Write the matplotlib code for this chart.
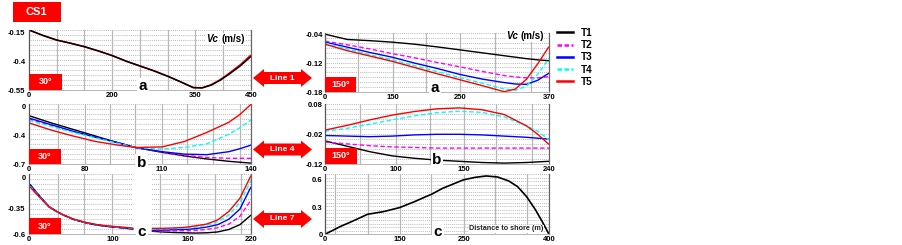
import numpy as np
import matplotlib
matplotlib.use('Agg')
import matplotlib.pyplot as plt
from matplotlib.patches import Rectangle, Polygon
from matplotlib.lines import Line2D

plt.rcParams['font.family'] = ['Liberation Sans', 'DejaVu Sans']

# ---------------- data ----------------
series_names = ['T1', 'T2', 'T3', 'T4', 'T5']
series_colors = ['#000000', '#ff00ff', '#0000ff', '#00ffff', '#ff0000']
series_dashed = [False, True, False, True, False]

# Line 1, 30 deg (a)
l1a_x = [0, 28, 56, 84, 112, 141, 169, 197, 225, 253, 281, 309, 333, 351, 369, 387, 405, 428, 450]
l1a_T1 = [-0.150, -0.186, -0.217, -0.238, -0.261, -0.290, -0.321, -0.358, -0.390, -0.422, -0.458,
          -0.498, -0.534, -0.536, -0.518, -0.486, -0.446, -0.390, -0.326]
l1a_T5 = [-0.150, -0.186, -0.217, -0.238, -0.261, -0.290, -0.321, -0.358, -0.390, -0.422, -0.458,
          -0.498, -0.534, -0.535, -0.515, -0.482, -0.440, -0.382, -0.316]

# Line 1, 150 deg (a)
l1b_x = [0, 37, 74, 111, 148, 185, 222, 259, 296, 314.5, 333, 351.5, 370]
l1b_T1 = [-0.0428, -0.0554, -0.0582, -0.0617, -0.0666, -0.0729, -0.0799, -0.0869, -0.0939, -0.0974, -0.1009, -0.1037, -0.1058]
l1b_T2 = [-0.0596, -0.0680, -0.0778, -0.0890, -0.0988, -0.1100, -0.1200, -0.1310, -0.1410, -0.1443, -0.1464, -0.1464, -0.1436]
l1b_T3 = [-0.0617, -0.0736, -0.0862, -0.0974, -0.1114, -0.1240, -0.1380, -0.1492, -0.1576, -0.1611, -0.1618, -0.1520, -0.1352]
l1b_T4 = [-0.0638, -0.0778, -0.0918, -0.1037, -0.1177, -0.1317, -0.1457, -0.1590, -0.1730, -0.1758, -0.1660, -0.1380, -0.1002]
l1b_T5 = [-0.0666, -0.0820, -0.0946, -0.1072, -0.1219, -0.1366, -0.1506, -0.1646, -0.1793, -0.1730, -0.1492, -0.1128, -0.0722]

# Line 4, 30 deg (b)
l4a_x = [0, 14, 28, 42, 56, 67.2, 84, 98, 112, 126, 133, 140]
l4a_T1 = [-0.133, -0.217, -0.294, -0.371, -0.448, -0.504, -0.560, -0.602, -0.637, -0.665, -0.676, -0.686]
l4a_T2 = [-0.172, -0.245, -0.322, -0.385, -0.448, -0.504, -0.560, -0.595, -0.620, -0.630, -0.630, -0.630]
l4a_T3 = [-0.161, -0.238, -0.315, -0.385, -0.448, -0.504, -0.553, -0.581, -0.588, -0.553, -0.518, -0.476]
l4a_T4 = [-0.189, -0.259, -0.329, -0.392, -0.455, -0.504, -0.522, -0.504, -0.462, -0.350, -0.273, -0.182]
l4a_T5 = [-0.217, -0.301, -0.371, -0.434, -0.476, -0.504, -0.497, -0.434, -0.329, -0.210, -0.119, 0.000]

# Line 4, 150 deg (b)
l4b_x = [0, 24, 48, 72, 96, 120, 144, 168, 192, 216, 228, 240]
l4b_T1 = [-0.042, -0.060, -0.078, -0.092, -0.100, -0.106, -0.110, -0.114, -0.116, -0.114, -0.112, -0.110]
l4b_T2 = [-0.046, -0.052, -0.058, -0.062, -0.064, -0.066, -0.066, -0.066, -0.066, -0.066, -0.066, -0.066]
l4b_T3 = [-0.024, -0.026, -0.028, -0.026, -0.022, -0.020, -0.020, -0.022, -0.026, -0.030, -0.033, -0.036]
l4b_T4 = [-0.010, 0.000, 0.014, 0.028, 0.042, 0.052, 0.057, 0.053, 0.038, 0.008, -0.010, -0.038]
l4b_T5 = [-0.006, 0.010, 0.028, 0.044, 0.056, 0.065, 0.068, 0.062, 0.046, 0.008, -0.020, -0.054]

# Line 7, 30 deg (c) -- gap in the middle (None)
l7a_x = [1.1, 6.6, 13.2, 19.8, 26.4, 33, 44, 55, 66, 77, 88, 103.4, 112,
         121.7, 132, 143, 154, 165, 176, 187, 198, 209, 220]
l7a_T1 = [-0.072, -0.148, -0.228, -0.306, -0.351, -0.390, -0.442, -0.475, -0.500, -0.516, -0.527, -0.545, None,
          -0.568, -0.575, -0.581, -0.584, -0.587, -0.584, -0.575, -0.549, -0.498, -0.397]
l7a_T2 = [-0.085, -0.155, -0.232, -0.308, -0.352, -0.390, -0.441, -0.473, -0.498, -0.514, -0.524, -0.541, None,
          -0.562, -0.565, -0.565, -0.562, -0.559, -0.549, -0.530, -0.492, -0.410, -0.238]
l7a_T3 = [-0.078, -0.150, -0.229, -0.307, -0.352, -0.391, -0.442, -0.474, -0.499, -0.515, -0.526, -0.543, None,
          -0.556, -0.556, -0.552, -0.549, -0.540, -0.524, -0.498, -0.441, -0.333, -0.098]
l7a_T4 = [-0.090, -0.159, -0.234, -0.309, -0.353, -0.390, -0.440, -0.472, -0.497, -0.513, -0.523, -0.538, None,
          -0.543, -0.543, -0.540, -0.537, -0.524, -0.505, -0.467, -0.397, -0.263, -0.029]
l7a_T5 = [-0.098, -0.165, -0.238, -0.311, -0.354, -0.390, -0.439, -0.471, -0.495, -0.511, -0.520, -0.535, None,
          -0.537, -0.537, -0.533, -0.527, -0.511, -0.492, -0.448, -0.359, -0.219, 0.022]

# Line 7, 150 deg (c)
l7b_x = [0, 26.8, 50, 76, 104, 133.6, 160, 176, 190, 210, 246.8, 268, 288, 308, 328, 344, 360, 376, 388, 400]
l7b_T1 = [0, 0.083, 0.144, 0.217, 0.245, 0.290, 0.354, 0.397, 0.433, 0.498, 0.589, 0.617, 0.632, 0.621,
          0.578, 0.516, 0.408, 0.264, 0.137, 0]

# tick labels
l1a_xticklabels = ['0', '200', '350', '450']
l1b_xticklabels = ['0', '150', '250', '370']
l4a_xticklabels = ['0', '80', '110', '140']
l4b_xticklabels = ['0', '100', '150', '240']
l7a_xticklabels = ['0', '100', '160', '220']
l7b_xticklabels = ['0', '150', '250', '400']
l1a_yticklabels = ['-0.15', '-0.4', '-0.55']
l1b_yticklabels = ['-0.04', '-0.12', '-0.18']
l4a_yticklabels = ['0', '-0.4', '-0.7']
l4b_yticklabels = ['0.08', '-0.02', '-0.12']
l7a_yticklabels = ['0', '-0.35', '-0.6']
l7b_yticklabels = ['0.6', '0.3', '0']

# ---------------- figure ----------------
W, H = 903, 245
fig = plt.figure(figsize=(W / 100, H / 100), dpi=100)


def rect(x0, y0, x1, y1):
    return [x0 / W, 1 - y1 / H, (x1 - x0) / W, (y1 - y0) / H]


def arr(v):
    return np.array([np.nan if a is None else a for a in v], dtype=float)


def style(ax, xmax, ylo, yhi, vgrid, xt, xtl, yt, ytl, nh, ypad):
    ax.set_xlim(0, xmax)
    ax.set_ylim(ylo, yhi)
    for f in vgrid:
        ax.axvline(f * xmax, color='#b8b8b8', lw=0.9, zorder=0.5)
    for k in range(1, nh + 1):
        ax.axhline(ylo + (yhi - ylo) * k / nh, color='#a8a8a8', lw=0.6,
                   ls=(0, (1, 1.3)), zorder=0.4)
    ax.set_xticks([f * xmax for f in xt])
    ax.set_xticklabels(xtl)
    ax.set_yticks([yhi - f * (yhi - ylo) for f in yt])
    ax.set_yticklabels(ytl)
    ax.tick_params(axis='x', length=0, labelsize=5.5, pad=1.5)
    ax.tick_params(axis='y', length=0, labelsize=5.5, pad=ypad)
    for lab in ax.get_xticklabels() + ax.get_yticklabels():
        lab.set_fontweight('bold')
    ax.spines['top'].set_visible(False)
    ax.spines['left'].set_color('#555555')
    ax.spines['left'].set_linewidth(0.9)
    ax.spines['right'].set_color('#666666')
    ax.spines['right'].set_linewidth(0.9)
    ax.spines['bottom'].set_color('#aaaaaa')
    ax.spines['bottom'].set_linewidth(0.6)
    ax.set_facecolor('white')


def draw(ax, x, ys, idx, lw=1.0):
    for y, i in zip(ys, idx):
        line, = ax.plot(x, arr(y), color=series_colors[i], lw=lw, zorder=2,
                        solid_capstyle='butt')
        if series_dashed[i]:
            line.set_dashes((3.2, 1.8))


def angle_box(ax, w, h, label):
    ax.add_patch(Rectangle((0, 0), w, h, transform=ax.transAxes, fc='#ff0000',
                           ec='none', zorder=6, clip_on=False))
    ax.text(w / 2, h / 2, label, transform=ax.transAxes, ha='center', va='center',
            color='white', fontsize=6.5, fontweight='bold', zorder=7)


def letter(ax, x, y, s):
    ax.text(x, y, s, transform=ax.transAxes, ha='center', va='center', fontsize=11,
            fontweight='bold', zorder=8, clip_on=False,
            bbox=dict(fc='white', ec='none', pad=1.2))


def vc_label(ax, xr, xl, y):
    ax.text(xr, y, 'Vc', transform=ax.transAxes, ha='right', va='center', fontsize=7,
            fontweight='bold', fontstyle='italic', zorder=8,
            bbox=dict(fc='white', ec='none', pad=0.5))
    ax.text(xl, y, '(m/s)', transform=ax.transAxes, ha='left', va='center', fontsize=7,
            fontweight='bold', zorder=8, bbox=dict(fc='white', ec='none', pad=0.5))


ax_tl = fig.add_axes(rect(29, 30, 251, 90))
ax_tr = fig.add_axes(rect(325, 33, 549, 92))
ax_ml = fig.add_axes(rect(29, 104.3, 251, 164.3))
ax_mr = fig.add_axes(rect(325, 104.3, 549, 164.3))
ax_bl = fig.add_axes(rect(29, 174.3, 251, 234.3))
ax_br = fig.add_axes(rect(325, 174.3, 549, 234.3))

# top-left
style(ax_tl, 450, -0.55, -0.15, [k / 8 for k in range(1, 8)], [0, 0.375, 0.75, 1.0],
      l1a_xticklabels, [0.05, 0.53, 1.0], l1a_yticklabels, 12, 2.5)
draw(ax_tl, l1a_x, [l1a_T5, l1a_T1], [4, 0], lw=1.1)
angle_box(ax_tl, 0.149, 0.267, '30°')
letter(ax_tl, 0.514, 0.06, 'a')
vc_label(ax_tl, 0.851, 0.865, 0.85)

# top-right
style(ax_tr, 370, -0.18, -0.04, [0.149, 0.305, 0.453, 0.602, 0.758, 0.921], [0, 0.305, 0.602, 1.0],
      l1b_xticklabels, [0.02, 0.51, 1.0], l1b_yticklabels, 12, 1.7)
draw(ax_tr, l1b_x, [l1b_T1, l1b_T2, l1b_T3, l1b_T4, l1b_T5], [0, 1, 2, 3, 4])
angle_box(ax_tr, 0.138, 0.254, '150°')
letter(ax_tr, 0.491, 0.06, 'a')
vc_label(ax_tr, 0.86, 0.871, 0.95)

# middle-left
style(ax_ml, 140, -0.7, 0.0, [0.131, 0.251, 0.364, 0.477, 0.598, 0.711, 0.831, 0.95],
      [0, 0.251, 0.598, 1.0], l4a_xticklabels, [0.04, 0.52, 1.0], l4a_yticklabels, 12, 2.5)
draw(ax_ml, l4a_x, [l4a_T1, l4a_T2, l4a_T3, l4a_T4, l4a_T5], [0, 1, 2, 3, 4])
angle_box(ax_ml, 0.144, 0.25, '30°')
letter(ax_ml, 0.508, 0.02, 'b')

# middle-right
style(ax_mr, 240, -0.12, 0.08, [0.156, 0.316, 0.468, 0.621, 0.765, 0.926],
      [0, 0.316, 0.621, 1.0], l4b_xticklabels, [0.0, 0.5, 1.0], l4b_yticklabels, 12, 1.7)
draw(ax_mr, l4b_x, [l4b_T1, l4b_T2, l4b_T3, l4b_T4, l4b_T5], [0, 1, 2, 3, 4])
angle_box(ax_mr, 0.143, 0.28, '150°')
letter(ax_mr, 0.5, 0.08, 'b')

# bottom-left
style(ax_bl, 220, -0.6, 0.035, [0.13, 0.25, 0.376, 0.59, 0.718, 0.84, 0.955],
      [0, 0.376, 0.718, 1.0], l7a_xticklabels, [0.057, 0.57, 1.0], l7a_yticklabels, 12, 2.5)
ax_bl.add_patch(Rectangle((0.468, 0), 0.086, 1.0, transform=ax_bl.transAxes, fc='white',
                          ec='none', zorder=1))
draw(ax_bl, l7a_x, [l7a_T1, l7a_T2, l7a_T3, l7a_T4, l7a_T5], [0, 1, 2, 3, 4])
angle_box(ax_bl, 0.144, 0.267, '30°')
letter(ax_bl, 0.508, 0.04, 'c')

# bottom-right
style(ax_br, 400, 0.0, 0.65, [0.045, 0.19, 0.334, 0.475, 0.62, 0.76, 0.90],
      [0, 0.334, 0.62, 1.0], l7b_xticklabels, [0.08, 0.55, 1.0], l7b_yticklabels, 17, 1.7)
draw(ax_br, l7b_x, [l7b_T1], [0], lw=1.2)
letter(ax_br, 0.504, 0.04, 'c')
ax_br.text(0.975, 0.09, 'Distance to shore (m)', transform=ax_br.transAxes, ha='right',
           va='center', fontsize=5.2, fontweight='bold', color='#222222', zorder=8,
           bbox=dict(fc='white', ec='none', pad=0.3))

# CS1 box
fig.patches.append(Rectangle((12.7 / W, 1 - 21.7 / H), 48 / W, 20 / H, transform=fig.transFigure,
                             fc='#ff0000', ec='none'))
fig.text(36.7 / W, 1 - 11.7 / H, 'CS1', ha='center', va='center', color='white',
         fontsize=8, fontweight='bold')

# double arrows
def double_arrow(yc, label):
    x0, x1 = 253, 312
    hl, hh, bh = 11, 9, 6
    pts = [(x0, yc), (x0 + hl, yc - hh), (x0 + hl, yc - bh), (x1 - hl, yc - bh), (x1 - hl, yc - hh),
           (x1, yc), (x1 - hl, yc + hh), (x1 - hl, yc + bh), (x0 + hl, yc + bh), (x0 + hl, yc + hh)]
    pts = [(px / W, 1 - py / H) for px, py in pts]
    fig.patches.append(Polygon(pts, closed=True, transform=fig.transFigure, fc='#ff0000', ec='none'))
    fig.text((x0 + x1) / 2 / W, 1 - yc / H, label, ha='center', va='center', color='white',
             fontsize=6, fontweight='bold')


double_arrow(78, 'Line 1')
double_arrow(149.5, 'Line 4')
double_arrow(219, 'Line 7')

# legend
handles = []
for c, d in zip(series_colors, series_dashed):
    h = Line2D([], [], color=c, lw=1.8)
    if d:
        h.set_dashes((1.8, 1.0))
    handles.append(h)
fig.legend(handles, series_names, loc='upper left', bbox_to_anchor=(557 / W, 1 - 28 / H),
           frameon=False, prop={'weight': 'bold', 'size': 7.2}, handlelength=1.6,
           handletextpad=0.8, labelspacing=0.22, borderpad=0, borderaxespad=0)

fig.savefig('out.png', dpi=100)
